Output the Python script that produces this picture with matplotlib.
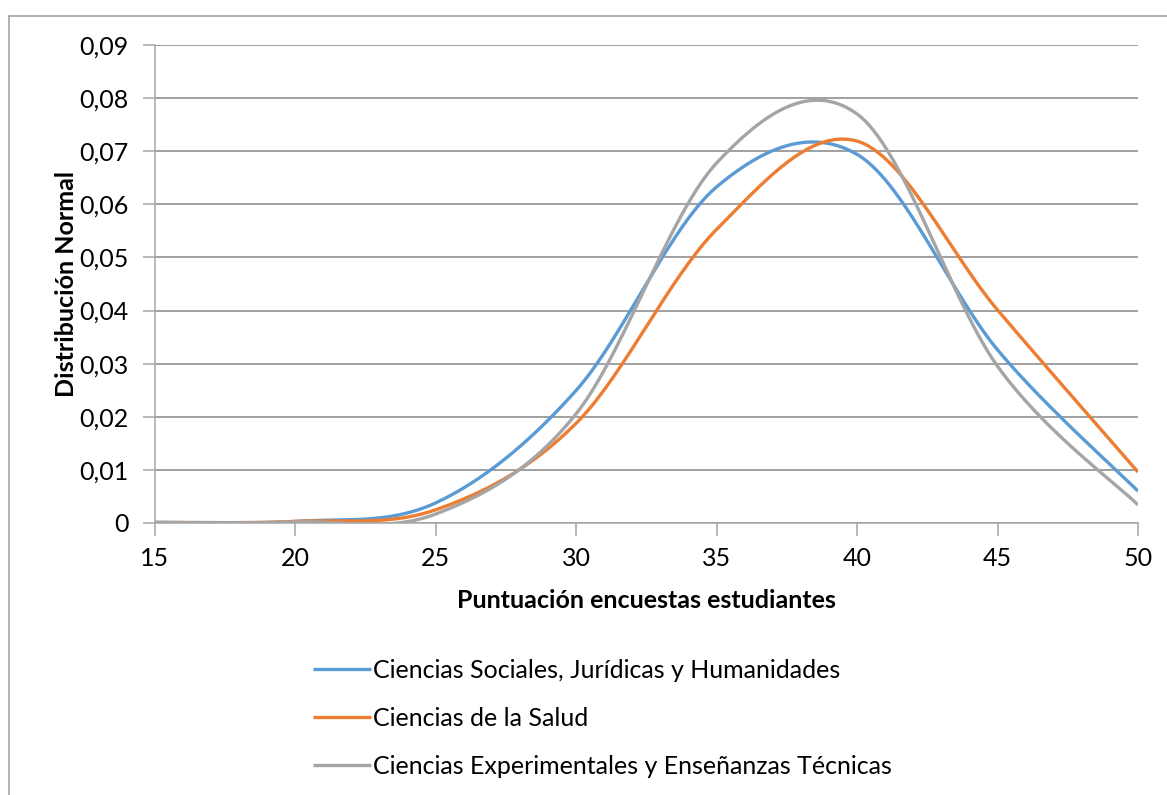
import numpy as np
import matplotlib
matplotlib.use("Agg")
import matplotlib.pyplot as plt
from matplotlib.lines import Line2D

# ---- data ----
x_vals = [15, 20, 25, 30, 35, 40, 45, 50]
sociales = [0.0001, 0.0003, 0.0038, 0.0250, 0.0633, 0.0694, 0.0326, 0.0060]
salud = [0.0001, 0.0003, 0.0025, 0.0188, 0.0553, 0.0719, 0.0401, 0.0096]
experimentales = [0.0001, 0.0002, 0.0017, 0.0206, 0.0678, 0.0770, 0.0295, 0.0034]
series_names = ["Ciencias Sociales, Jurídicas y Humanidades",
                "Ciencias de la Salud",
                "Ciencias Experimentales y Enseñanzas Técnicas"]
x_ticks = [15, 20, 25, 30, 35, 40, 45, 50]
y_ticks = [0, 0.01, 0.02, 0.03, 0.04, 0.05, 0.06, 0.07, 0.08, 0.09]
y_tick_labels = ["0", "0,01", "0,02", "0,03", "0,04", "0,05", "0,06", "0,07", "0,08", "0,09"]
x_title = "Puntuación encuestas estudiantes"
y_title = "Distribución Normal"

colors = ["#5B9BD5", "#ED7D31", "#A5A5A5"]
FONT = "Lato"


def excel_smooth(x, y, n=60):
    pts = np.column_stack([x, y]).astype(float)
    out = []
    for i in range(len(pts) - 1):
        p0 = pts[i - 1] if i > 0 else pts[i]
        p1 = pts[i]
        p2 = pts[i + 1]
        p3 = pts[i + 2] if i + 2 < len(pts) else pts[i + 1]
        c1 = p1 + (p2 - p0) / 6.0
        c2 = p2 - (p3 - p1) / 6.0
        t = np.linspace(0, 1, n)[:, None]
        seg = ((1 - t) ** 3) * p1 + 3 * ((1 - t) ** 2) * t * c1 + 3 * (1 - t) * (t ** 2) * c2 + (t ** 3) * p2
        out.append(seg if i == 0 else seg[1:])
    s = np.vstack(out)
    return s[:, 0], s[:, 1]


W, H = 1167, 795
fig = plt.figure(figsize=(W / 100, H / 100), dpi=100)
fig.patch.set_facecolor("white")

# chart-area border (top and left visible)
fig.add_artist(Line2D([8.5 / W, 1.0], [1 - 16 / H, 1 - 16 / H], color="#A6A6A6", lw=1.2,
                      transform=fig.transFigure))
fig.add_artist(Line2D([8.5 / W, 8.5 / W], [0, 1 - 16 / H], color="#A6A6A6", lw=1.2,
                      transform=fig.transFigure))

L, R, T, B = 155, 1138, 45, 523
ax = fig.add_axes([L / W, 1 - B / H, (R - L) / W, (B - T) / H])

for vals, c, name in zip([sociales, salud, experimentales], colors, series_names):
    xs, ys = excel_smooth(x_vals, vals)
    ax.plot(xs, ys, color=c, lw=2.4, label=name, solid_capstyle="butt")

ax.set_xlim(15, 50)
ax.set_ylim(0, 0.09)
ax.set_xticks(x_ticks)
ax.set_xticklabels([str(v) for v in x_ticks])
ax.set_yticks(y_ticks)
ax.set_yticklabels(y_tick_labels)
ax.grid(axis="y", color="#868686", lw=1.1)
ax.set_axisbelow(True)
for s in ["top", "right"]:
    ax.spines[s].set_visible(False)
for s in ["left", "bottom"]:
    ax.spines[s].set_color("#A6A6A6")
    ax.spines[s].set_linewidth(1.1)
ax.tick_params(axis="both", colors="#A6A6A6", length=9, width=1.1, labelcolor="black",
               labelsize=18)
ax.tick_params(axis="y", pad=10)
ax.tick_params(axis="x", pad=8)
for lab in ax.get_xticklabels() + ax.get_yticklabels():
    lab.set_fontfamily(FONT)

ax.set_xlabel(x_title, fontsize=18, fontweight="bold", fontfamily=FONT, labelpad=14)
ax.set_ylabel(y_title, fontsize=18, fontweight="bold", fontfamily=FONT, labelpad=1)

leg = fig.legend(loc="upper left", bbox_to_anchor=(313 / W, 1 - 659 / H), frameon=False,
                 prop={"family": FONT, "size": 18}, handlelength=2.3, handletextpad=0.1,
                 labelspacing=1.0, borderpad=0, borderaxespad=0)

fig.savefig("out.png", dpi=100, facecolor="white")
